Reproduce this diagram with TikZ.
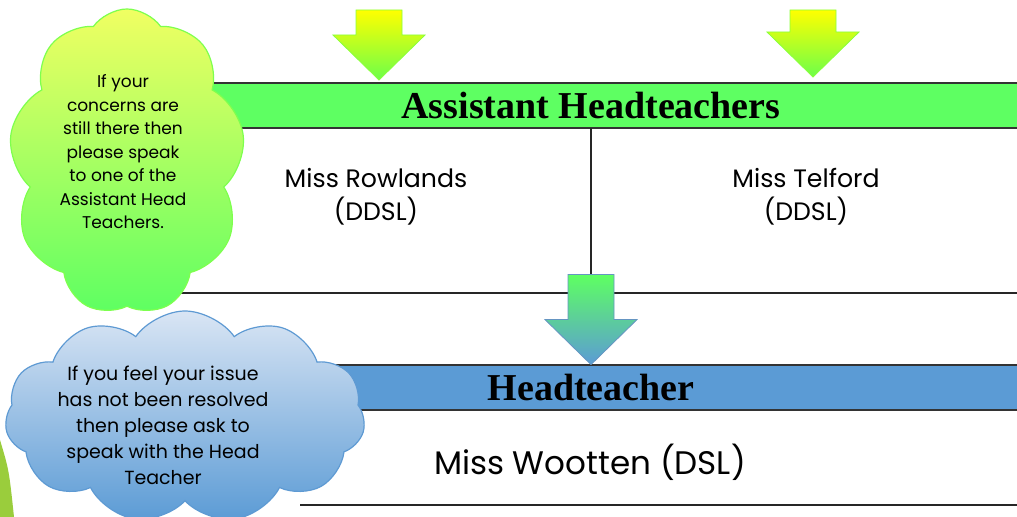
\documentclass[tikz,border=0pt]{standalone}
\usepackage{fontspec}
\setmainfont{Liberation Serif}
\newfontfamily\gothic{Poppins}
\usetikzlibrary{shapes.symbols}

\definecolor{barGreen}{HTML}{5EFF62}
\definecolor{barBlue}{HTML}{5B9BD5}
\definecolor{cloudYellow}{HTML}{F0FF62}
\definecolor{cloudGreen}{HTML}{5EFF62}
\definecolor{arrowYellow}{HTML}{FFFF00}
\definecolor{arrowGreen}{HTML}{6CFF4A}
\definecolor{lightBlue}{HTML}{D9E5F4}
\definecolor{edgeBlue}{HTML}{5E9AD3}
\definecolor{sliver}{HTML}{9ACD3C}

\tikzset{x=0.5pt, y=-0.5pt,
         bar/.style={minimum width=426pt, minimum height=22.5pt, inner sep=0pt,
                     font=\fontsize{19}{19}\selectfont\bfseries},
         barline/.style={line width=1pt, black!80},
         rule/.style={line width=0.7pt, black!85},
         staff/.style={align=center, font=\gothic\fontsize{12.6}{16.5}\selectfont},
         cloudbox/.style={cloud, cloud puffs=11, cloud puff arc=110, cloud ignores aspect,
                          inner sep=0pt, line width=0.6pt},
         cloudtext/.style={align=center, inner sep=0pt}}

% block arrow: tip, shaft length, colours
\newcommand{\blockarrow}[5]{%
    \path[draw=#5, line width=0.4pt, top color=#3, bottom color=#4]
        (#1) -- ++(-46,-45) -- ++(23,0) -- ++(0,-#2) -- ++(46,0)
        -- ++(0,#2) -- ++(23,0) -- cycle;}

\begin{document}
\begin{tikzpicture}
    \useasboundingbox[fill=white] (0,0) rectangle (1017,517);

    % bars
    \node[bar, fill=barGreen] at (591,105.5) (ahbar) {Assistant Headteachers};
    \node[bar, fill=barBlue]  at (591,387.5) (htbar) {Headteacher};
    \draw[barline] (ahbar.north west) -- (ahbar.north east);
    \draw[barline] (ahbar.south west) -- (ahbar.south east);
    \draw[barline] (htbar.north west) -- (htbar.north east);
    \draw[barline] (htbar.south west) -- (htbar.south east);

    % names
    \node[staff] at (376,197) (rowlands) {Miss Rowlands\\(DDSL)};
    \node[staff] at (806,197) (telford)  {Miss Telford\\(DDSL)};
    \node[staff, font=\gothic\fontsize{16.3}{19}\selectfont] at (590,462) (wootten) {Miss Wootten (DSL)};

    % rules
    \coordinate (divend) at (591,275);
    \draw[rule] (ahbar.south) -- (divend);
    \draw[rule] (160,293) -- (1017,293);
    \draw[rule] (300,505) -- (1017,505);

    % arrows
    \coordinate (tipone) at (379,80);
    \coordinate (tiptwo) at (813,77);
    \blockarrow{tipone}{25}{arrowYellow}{arrowGreen}{arrowGreen!80!yellow}
    \blockarrow{tiptwo}{22}{arrowYellow}{arrowGreen}{arrowGreen!80!yellow}
    \blockarrow{htbar.north}{45}{cloudGreen}{barBlue}{edgeBlue!80!gray}

    % clouds
    \fill[sliver] (0,440) .. controls (9,470) .. (14,517) -- (0,517) -- cycle;
    \node[cloudbox, cloud puffs=9, draw=cloudGreen!80!yellow, top color=cloudYellow, bottom color=cloudGreen,
          minimum width=118pt, minimum height=153pt] at (127,162) (greencloud) {};
    \node[cloudtext, font=\gothic\fontsize{8.5}{11.75}\selectfont] at (123,152) (greentext)
          {If your\\concerns are\\still there then\\please speak\\to one of the\\Assistant Head\\Teachers.};
    \node[cloudbox, draw=edgeBlue, top color=lightBlue, bottom color=barBlue,
          minimum width=180pt, minimum height=106pt] at (185,417) (bluecloud) {};
    \node[cloudtext, font=\gothic\fontsize{9.5}{13}\selectfont] at (163,425) (bluetext)
          {If you feel your issue\\has not been resolved\\then please ask to\\speak with the Head\\Teacher};
\end{tikzpicture}
\end{document}
